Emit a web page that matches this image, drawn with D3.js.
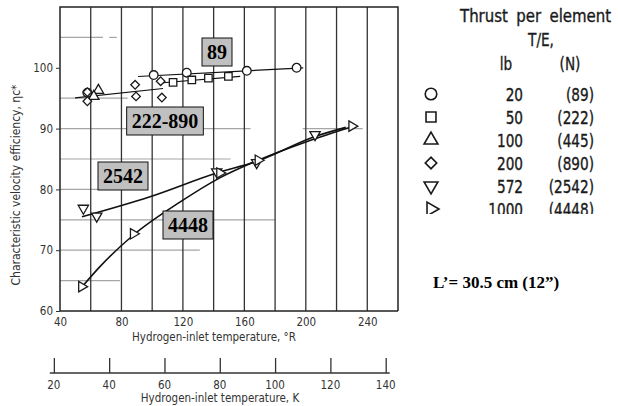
<!DOCTYPE html>
<html>
<head>
<meta charset="utf-8">
<script src="https://cdn.jsdelivr.net/npm/d3@7"></script>
<style>
  body { margin: 0; background: #fff; }
  text { font-family: "DejaVu Sans Condensed", "DejaVu Sans", sans-serif; }
</style>
</head>
<body>
<div id="chart"></div>
<script>
// --- data (temperature in deg R, efficiency in %) ---
var circles89   = [[57.8, 95.9], [101, 98.8], [122.5, 99.2], [161.6, 99.5], [194, 100.0]];
var squares222  = [[113.6, 97.6], [125.8, 98.0], [136.6, 98.3], [149.6, 98.6]];
var triUp445    = [[65, 96.3], [62, 95.3]];
var diamonds890 = [[57.8, 96.0], [57.8, 94.5], [88.9, 97.2], [89.5, 95.3], [105.5, 97.8], [106.3, 95.1]];
var triDown2542 = [[55.2, 76.9], [63.9, 75.6], [142, 82.9], [168, 84.4], [206, 89.0]];
var triRight4448 = [[54.1, 64.0], [87.8, 72.7], [144, 82.7], [169, 84.8], [230, 90.4]];

// faired curves
var fit89      = [[90.8, 98.57], [198.3, 100.0]];
var fit222     = [[105.1, 97.5], [157.3, 98.6]];
var fitCluster = [[49.8, 95.05], [107.1, 96.6]];
var fit2542    = [[54.3, 75.5], [98.6, 78.8], [142, 82.7], [168, 84.6], [206, 88.7], [226, 90.2]];
var fit4448    = [[54.1, 63.9], [66, 67.3], [87.8, 72.5], [118, 77.9], [144, 81.9], [169, 84.8], [200, 87.8], [230, 90.3]];

var xTicksR = [40, 80, 120, 160, 200, 240];
var xGridR  = [60, 80, 100, 120, 140, 160, 180, 200, 220, 240];
var yTicks  = [60, 70, 80, 90, 100];
var kTicks  = [20, 40, 60, 80, 100, 120, 140];
// partial horizontal grid: [efficiency, from R, to R]
var hGrid = [[105, 40, 68], [105, 72, 77], [95, 40, 84], [90, 40, 164], [90, 198, 237],
             [85, 40, 151], [80, 40, 65], [75, 40, 180], [70, 40, 131], [65, 40, 79]];

var legendLb = ['20', '50', '100', '200', '572', '1000'];
var legendN  = ['(89)', '(222)', '(445)', '(890)', '(2542)', '(4448)'];
var legendShapes = ['circle', 'square', 'up', 'diamond', 'down', 'right'];

var boxLabels = [
  { text: '89', cx: 217, cy: 52 },
  { text: '222-890', cx: 165, cy: 121 },
  { text: '2542', cx: 123, cy: 176 },
  { text: '4448', cx: 188, cy: 225 }
];

var width = 618, height = 406;

var svg = d3.select('#chart').append('svg')
  .attr('width', width).attr('height', height);

var x = d3.scaleLinear().domain([40, 260]).range([60, 398]);
var y = d3.scaleLinear().domain([60, 110]).range([311, 7]);
// kelvin axis shares the rankine scale
var xK = d3.scaleLinear().domain([20, 140]).range([x(20 * 1.8), x(140 * 1.8)]);

// grid
svg.append('g').selectAll('line').data(hGrid).enter().append('line')
  .attr('x1', function (d) { return x(d[1]); })
  .attr('x2', function (d) { return x(d[2]); })
  .attr('y1', function (d) { return y(d[0]); })
  .attr('y2', function (d) { return y(d[0]); })
  .attr('stroke', '#a5a5a5').attr('stroke-width', 1.2);

svg.append('g').selectAll('line').data(xGridR).enter().append('line')
  .attr('x1', function (d) { return x(d); })
  .attr('x2', function (d) { return x(d); })
  .attr('y1', y(110)).attr('y2', y(60))
  .attr('stroke', '#333').attr('stroke-width', 1.3);

// frame
svg.append('path')
  .attr('d', 'M' + x(260) + ',' + y(60) + 'V' + y(110) + 'H' + x(40) + 'V' + y(60) + 'H' + x(260))
  .attr('fill', 'none').attr('stroke', '#222').attr('stroke-width', 1.5);

// axes
var yAxis = svg.append('g').attr('transform', 'translate(' + x(40) + ',0)')
  .call(d3.axisLeft(y).tickValues(yTicks).tickSize(4).tickPadding(3));
yAxis.select('.domain').remove();
yAxis.selectAll('text').attr('font-size', 11.5).attr('fill', '#333');
yAxis.selectAll('line').attr('stroke', '#333');

var xAxis = svg.append('g').attr('transform', 'translate(0,' + y(60) + ')')
  .call(d3.axisBottom(x).tickValues(xTicksR).tickSize(0).tickPadding(7));
xAxis.select('.domain').remove();
xAxis.selectAll('text').attr('font-size', 11.5).attr('fill', '#333');

svg.append('text').attr('x', 214).attr('y', 341)
  .attr('text-anchor', 'middle').attr('font-size', 11.5).attr('fill', '#333')
  .text('Hydrogen-inlet temperature,  \u00b0R');

svg.append('text')
  .attr('transform', 'translate(20,185) rotate(-90)')
  .attr('text-anchor', 'middle').attr('font-size', 12).attr('fill', '#333')
  .text('Characteristic velocity efficiency, \u03b7c*');

// kelvin axis
var kAxis = svg.append('g').attr('transform', 'translate(0,373)')
  .call(d3.axisTop(xK).tickValues(kTicks).tickSize(15).tickFormat(''));
kAxis.select('.domain').attr('d', 'M' + (xK(20) - 4) + ',0H' + (xK(140) + 4));
kAxis.selectAll('path, line').attr('stroke', '#333').attr('stroke-width', 1.3);
svg.append('g').selectAll('text').data(kTicks).enter().append('text')
  .attr('x', function (d) { return xK(d); }).attr('y', 389)
  .attr('text-anchor', 'middle').attr('font-size', 11.5).attr('fill', '#333')
  .text(function (d) { return d; });
svg.append('text').attr('x', 220).attr('y', 402)
  .attr('text-anchor', 'middle').attr('font-size', 11.5).attr('fill', '#333')
  .text('Hydrogen-inlet temperature,  K');

// curves
var line = d3.line()
  .x(function (d) { return x(d[0]); })
  .y(function (d) { return y(d[1]); })
  .curve(d3.curveMonotoneX);

[fit89, fit222, fitCluster, fit2542, fit4448].forEach(function (f, i) {
  svg.append('path').datum(f).attr('d', line)
    .attr('fill', 'none').attr('stroke', '#111')
    .attr('stroke-width', i < 3 ? 1.2 : 1.6);
});

// markers
function marker(sel, shape, s, sw) {
  var sym = d3.symbol();
  var rot = 0;
  if (shape === 'circle') sym.type(d3.symbolCircle).size(s * 0.95);
  if (shape === 'square') sym.type(d3.symbolSquare).size(s * 0.9);
  if (shape === 'diamond') { sym.type(d3.symbolSquare).size(s * 0.6); rot = 45; }
  if (shape === 'up') sym.type(d3.symbolTriangle).size(s * 0.75);
  if (shape === 'down') { sym.type(d3.symbolTriangle).size(s * 0.75); rot = 180; }
  if (shape === 'right') { sym.type(d3.symbolTriangle).size(s * 0.75); rot = 90; }
  sel.append('path').attr('d', sym())
    .attr('transform', 'rotate(' + rot + ')')
    .attr('fill', '#fff').attr('stroke', '#1a1a1a').attr('stroke-width', sw);
}

var series = [
  [circles89, 'circle'], [squares222, 'square'], [triUp445, 'up'],
  [diamonds890, 'diamond'], [triDown2542, 'down'], [triRight4448, 'right']
];
series.forEach(function (s) {
  svg.append('g').selectAll('g').data(s[0]).enter().append('g')
    .attr('transform', function (d) { return 'translate(' + x(d[0]) + ',' + y(d[1]) + ')'; })
    .each(function () { marker(d3.select(this), s[1], 62, 1.3); });
});

// label boxes
boxLabels.forEach(function (b) {
  var g = svg.append('g');
  var t = g.append('text').attr('x', b.cx).attr('y', b.cy + 7)
    .attr('text-anchor', 'middle')
    .style('font-family', '"Liberation Serif", "Times New Roman", serif')
    .attr('font-weight', 'bold').attr('font-size', 20)
    .text(b.text);
  var bb = t.node().getBBox();
  g.insert('rect', 'text')
    .attr('x', bb.x - 5).attr('y', b.cy - 14)
    .attr('width', bb.width + 10).attr('height', 28)
    .attr('fill', '#c0c0c0').attr('stroke', '#111').attr('stroke-width', 1);
});

// legend (narrow, tall lettering)
var lg = svg.append('g');
function ltext(tx, ty, anchor, str) {
  return lg.append('text')
    .attr('transform', 'translate(' + tx + ',' + ty + ') scale(0.82,1)')
    .attr('text-anchor', anchor).attr('font-size', 18.5)
    .attr('fill', '#1a1a1a').attr('stroke', '#1a1a1a').attr('stroke-width', 0.35)
    .text(str);
}
ltext(460, 22, 'start', 'Thrust per element').attr('word-spacing', 4)
  .attr('transform', 'translate(460,22) scale(0.9,1)');
ltext(541, 46, 'middle', 'T/E,');
ltext(506, 70, 'middle', 'lb');
ltext(570, 70, 'middle', '(N)');

var rowY = d3.scalePoint().domain(d3.range(legendLb.length)).range([94, 209]);
legendLb.forEach(function (lb, i) {
  var gy = rowY(i);
  var m = lg.append('g').attr('transform', 'translate(431,' + gy + ')');
  marker(m, legendShapes[i], 110, 1.6);
  ltext(523, gy + 6.5, 'end', lb);
  ltext(594, gy + 6.5, 'end', legendN[i]);
});
// legend is clipped at its bottom in the original
svg.append('rect').attr('x', 400).attr('y', 214).attr('width', 218).attr('height', 20).attr('fill', '#fff');

svg.append('text').attr('x', 433).attr('y', 288)
  .style('font-family', '"Liberation Serif", "Times New Roman", serif')
  .attr('font-weight', 'bold').attr('font-size', 17)
  .text('L\u2019= 30.5 cm (12\u201d)');
</script>
</body>
</html>
